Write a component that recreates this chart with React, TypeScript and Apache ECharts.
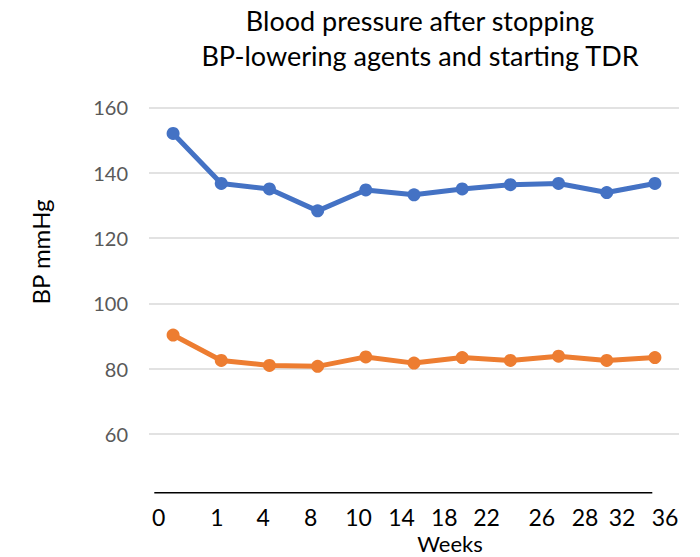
import React, { useEffect, useRef } from "react";
import * as echarts from "echarts";

const VISITS = ["V1", "V2", "V3", "V4", "V5", "V6", "V7", "V8", "V9", "V10", "V11"];
const SYSTOLIC = [152, 136.7, 135.0, 128.3, 134.7, 133.2, 135.0, 136.3, 136.7, 133.9, 136.7];
const DIASTOLIC = [90.3, 82.5, 81.0, 80.7, 83.6, 81.7, 83.4, 82.5, 83.8, 82.5, 83.4];
const WEEK_LABELS = ["0", "1", "4", "8", "10", "14", "18", "22", "26", "28", "32", "36"];
const Y_MIN = 60;
const Y_MAX = 160;
const Y_STEP = 20;

const TITLE = "Blood pressure after stopping\nBP-lowering agents and starting TDR";
const Y_NAME = "BP mmHg";
const X_NAME = "Weeks";

// layout (pixel positions of the hand-placed week labels)
const WEEK_LABEL_X = [158.6, 216.8, 263.2, 310.7, 358.5, 401.5, 444.3, 486.5, 541.8, 585, 622, 665];

const FONT = "Lato, 'Open Sans', sans-serif";

export default function App() {
  const ref = useRef<HTMLDivElement>(null);
  useEffect(() => {
    if (!ref.current) return;
    const chart = echarts.init(ref.current, null, { renderer: "svg" });
    const graphic: any[] = [
      {
        type: "text",
        x: 420,
        y: 3,
        style: {
          text: TITLE,
          fontFamily: FONT,
          fontSize: 27,
          lineHeight: 35,
          fill: "#000",
          align: "center",
          verticalAlign: "top",
        },
      },
      {
        type: "text",
        x: 40,
        y: 252,
        rotation: Math.PI / 2,
        style: {
          text: Y_NAME,
          fontFamily: FONT,
          fontSize: 24,
          fill: "#000",
          align: "center",
          verticalAlign: "middle",
        },
      },
      {
        type: "line",
        shape: { x1: 154.3, y1: 492.7, x2: 652.3, y2: 492.7 },
        style: { stroke: "#000", lineWidth: 1.5 },
      },
      {
        type: "text",
        x: 450,
        y: 543,
        style: {
          text: X_NAME,
          fontFamily: FONT,
          fontSize: 22,
          fill: "#000",
          align: "center",
          verticalAlign: "middle",
        },
      },
      ...WEEK_LABELS.map((t, i) => ({
        type: "text",
        x: WEEK_LABEL_X[i],
        y: 517,
        style: {
          text: t,
          fontFamily: FONT,
          fontSize: 23,
          fill: "#000",
          align: "center",
          verticalAlign: "middle",
        },
      })),
    ];
    chart.setOption({
      animation: false,
      backgroundColor: "#fff",
      grid: { left: 149, right: 21, top: 107.3, bottom: 123 },
      xAxis: {
        type: "category",
        data: VISITS,
        boundaryGap: true,
        axisLine: { show: false },
        axisTick: { show: false },
        axisLabel: { show: false },
        splitLine: { show: false },
      },
      yAxis: {
        type: "value",
        min: Y_MIN,
        max: Y_MAX,
        interval: Y_STEP,
        axisLine: { show: false },
        axisTick: { show: false },
        axisLabel: { color: "#595959", fontSize: 20, fontFamily: FONT, margin: 21 },
        splitLine: { lineStyle: { color: "#D9D9D9", width: 1.5 } },
      },
      series: [
        {
          name: "Systolic",
          type: "line",
          data: SYSTOLIC,
          symbol: "circle",
          symbolSize: 13,
          color: "#4472C4",
          lineStyle: { width: 5, color: "#4472C4" },
          itemStyle: { color: "#4472C4" },
        },
        {
          name: "Diastolic",
          type: "line",
          data: DIASTOLIC,
          symbol: "circle",
          symbolSize: 13,
          color: "#ED7D31",
          lineStyle: { width: 5, color: "#ED7D31" },
          itemStyle: { color: "#ED7D31" },
        },
      ],
      graphic,
    });
    return () => chart.dispose();
  }, []);
  return (
    <div
      ref={ref}
      style={{ position: "fixed", left: 0, top: 0, width: 700, height: 557 }}
    />
  );
}
